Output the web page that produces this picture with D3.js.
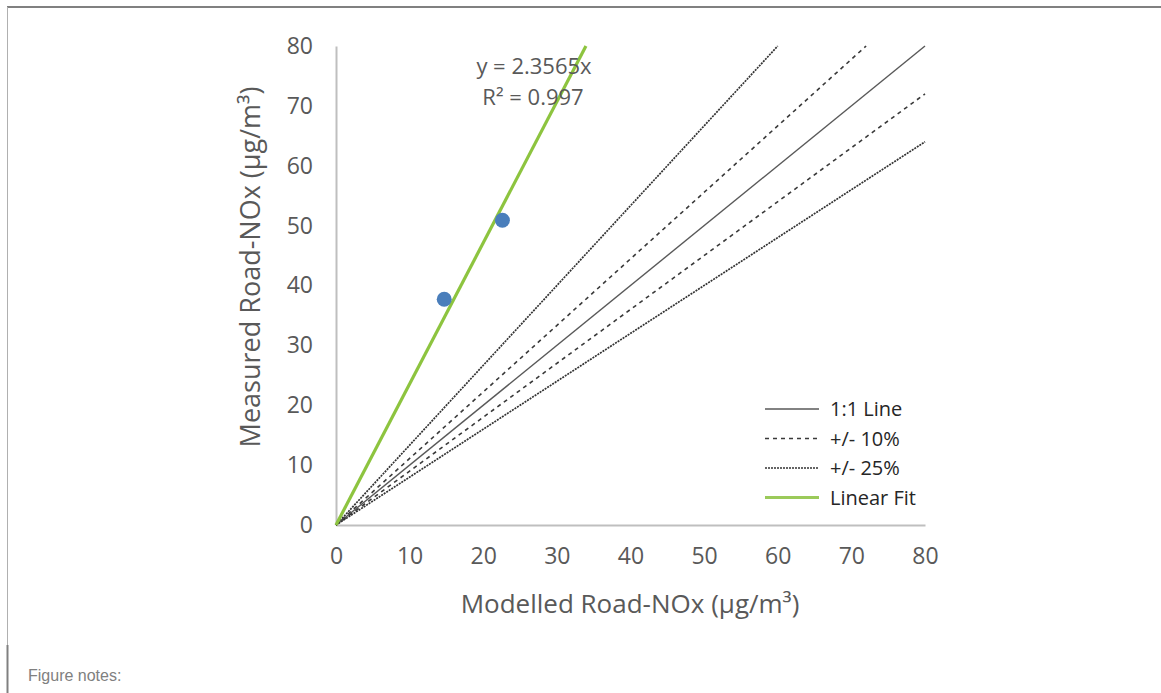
<!DOCTYPE html>
<html>
<head>
<meta charset="utf-8">
<script src="https://cdn.jsdelivr.net/npm/d3@7"></script>
<style>
  body { margin: 0; background: #fff; }
  svg { display: block; }
</style>
</head>
<body>
<div id="chart"></div>
<script>
var w = 1161;
var h = 693;

// axis ticks
var xTicks = [0, 10, 20, 30, 40, 50, 60, 70, 80];
var yTicks = [0, 10, 20, 30, 40, 50, 60, 70, 80];

// measured vs modelled points
var modelled = [14.7, 22.6];
var measured = [37.7, 50.9];

// reference lines, end points [x, y]
var refNames = ["+25% upper", "+10% upper", "1:1", "-10% lower", "-25% lower"];
var refEnds = [[60, 80], [72, 80], [80, 80], [80, 72], [80, 64]];
var refKind = ["25", "10", "11", "10", "25"];

// linear fit y = 2.3565x
var fitSlope = 2.3565;

var legendLabels = ["1:1 Line", "+/- 10%", "+/- 25%", "Linear Fit"];
var legendKind = ["11", "10", "25", "fit"];

var styles = {
  "11": { stroke: "#595959", width: 1.4, dash: null },
  "10": { stroke: "#3a3a3a", width: 1.6, dash: "4,4" },
  "25": { stroke: "#333333", width: 1.7, dash: "2,1" },
  "fit": { stroke: "#8dc43f", width: 3.2, dash: null }
};

var svg = d3.select("#chart")
    .append("svg")
    .attr("width", w)
    .attr("height", h);

// frame
svg.append("line").attr("x1", 7).attr("x2", w).attr("y1", 7).attr("y2", 7)
   .attr("stroke", "#808080").attr("stroke-width", 2);
svg.append("line").attr("x1", 7.5).attr("x2", 7.5).attr("y1", 7).attr("y2", 645)
   .attr("stroke", "#b0b0b0").attr("stroke-width", 1);
svg.append("line").attr("x1", 7.5).attr("x2", 7.5).attr("y1", 645).attr("y2", h)
   .attr("stroke", "#808080").attr("stroke-width", 2);

svg.append("text")
   .attr("x", 28).attr("y", 681)
   .style("font-family", "Liberation Sans, Arial, sans-serif")
   .style("font-size", "16px")
   .style("fill", "#808080")
   .text("Figure notes:");

var x = d3.scaleLinear().domain([0, 80]).range([336, 925]);
var y = d3.scaleLinear().domain([0, 80]).range([525, 46]);

var font = "Open Sans, Lato, sans-serif";

// axes
var xAxis = svg.append("g")
    .attr("transform", "translate(0," + y(0) + ")")
    .call(d3.axisBottom(x).tickValues(xTicks).tickSize(0).tickPadding(23));
var yAxis = svg.append("g")
    .attr("transform", "translate(" + x(0) + ",0)")
    .call(d3.axisLeft(y).tickValues(yTicks).tickSize(0).tickPadding(23));

[xAxis, yAxis].forEach(function(a) {
  a.select(".domain").attr("stroke", "#bfbfbf").attr("stroke-width", 2);
  a.selectAll("text")
   .style("font-family", font)
   .style("font-size", "23px")
   .style("fill", "#595959");
});

// axis titles
svg.append("text")
   .attr("x", 630).attr("y", 613)
   .attr("text-anchor", "middle")
   .style("font-family", font)
   .style("font-size", "26px")
   .style("fill", "#595959")
   .text("Modelled Road-NOx (\u00b5g/m\u00b3)");

svg.append("text")
   .attr("transform", "translate(260,267) rotate(-90)")
   .attr("text-anchor", "middle")
   .style("font-family", font)
   .style("font-size", "27px")
   .style("fill", "#595959")
   .text("Measured Road-NOx (\u00b5g/m\u00b3)");

// reference lines
svg.selectAll(".ref")
   .data(refEnds)
   .enter().append("line")
   .attr("class", "ref")
   .attr("x1", x(0)).attr("y1", y(0))
   .attr("x2", function(d) { return x(d[0]); })
   .attr("y2", function(d) { return y(d[1]); })
   .attr("stroke", function(d, i) { return styles[refKind[i]].stroke; })
   .attr("stroke-width", function(d, i) { return styles[refKind[i]].width; })
   .attr("stroke-dasharray", function(d, i) { return styles[refKind[i]].dash; });

// linear fit
svg.append("line")
   .attr("x1", x(0)).attr("y1", y(0))
   .attr("x2", x(80 / fitSlope)).attr("y2", y(80))
   .attr("stroke", styles.fit.stroke)
   .attr("stroke-width", styles.fit.width);

// points
svg.selectAll(".pt")
   .data(modelled)
   .enter().append("circle")
   .attr("class", "pt")
   .attr("cx", function(d) { return x(d); })
   .attr("cy", function(d, i) { return y(measured[i]); })
   .attr("r", 7.5)
   .attr("fill", "#4a7ebb");

// equation
svg.append("text")
   .attr("x", 534).attr("y", 74)
   .attr("text-anchor", "middle")
   .style("font-family", font)
   .style("font-size", "22px")
   .style("fill", "#595959")
   .text("y = " + fitSlope + "x");
svg.append("text")
   .attr("x", 533).attr("y", 105)
   .attr("text-anchor", "middle")
   .style("font-family", font)
   .style("font-size", "22px")
   .style("fill", "#595959")
   .text("R\u00b2 = 0.997");

// legend
var lg = svg.selectAll(".lg")
   .data(legendLabels)
   .enter().append("g")
   .attr("class", "lg")
   .attr("transform", function(d, i) { return "translate(765," + (409 + i * 29.5) + ")"; });

lg.append("line")
  .attr("x1", 0).attr("x2", 54).attr("y1", 0).attr("y2", 0)
  .attr("stroke", function(d, i) { return legendKind[i] == "fit" ? "#9bca5a" : styles[legendKind[i]].stroke; })
  .attr("stroke-width", function(d, i) { return styles[legendKind[i]].width; })
  .attr("stroke-dasharray", function(d, i) { return styles[legendKind[i]].dash; });

lg.append("text")
  .attr("x", 65).attr("y", 7)
  .style("font-family", font)
  .style("font-size", "20px")
  .style("fill", "#262626")
  .text(function(d) { return d; });
</script>
</body>
</html>
